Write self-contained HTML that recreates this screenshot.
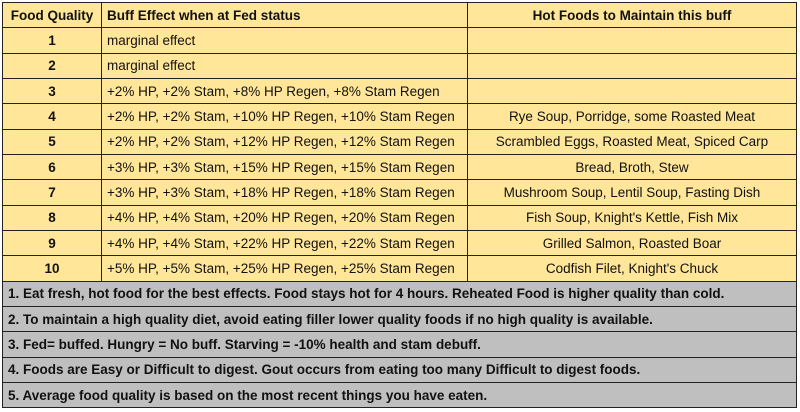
<!DOCTYPE html>
<html><head><meta charset="utf-8"><style>
body{margin:0;width:800px;height:412px;background:#fff;overflow:hidden;font-family:"Liberation Sans",sans-serif;}
table{position:absolute;left:2px;top:2px;border-collapse:collapse;table-layout:fixed;width:794px;}
td{border:1.5px solid #222;height:24.35px;padding:0 5px;font-size:13.5px;color:#111;white-space:nowrap;overflow:hidden;background:#FFE699;}
th{border:1.5px solid #222;height:24.35px;padding:0 5px;font-size:13.5px;background:#FFE699;color:#111;}
.c{text-align:center;font-weight:bold}
.h{text-align:center}
.n td{background:#BFBFBF;font-weight:bold;height:24.3px}
</style></head><body>
<table>
<colgroup><col style="width:99px"><col style="width:366px"><col style="width:329px"></colgroup>
<tr><th>Food Quality</th><th style="text-align:left">Buff Effect when at Fed status</th><th>Hot Foods to Maintain this buff</th></tr>
<tr><td class="c">1</td><td>marginal effect</td><td class="h"></td></tr>
<tr><td class="c">2</td><td>marginal effect</td><td class="h"></td></tr>
<tr><td class="c">3</td><td>+2% HP, +2% Stam, +8% HP Regen, +8% Stam Regen</td><td class="h"></td></tr>
<tr><td class="c">4</td><td>+2% HP, +2% Stam, +10% HP Regen, +10% Stam Regen</td><td class="h">Rye Soup, Porridge, some Roasted Meat</td></tr>
<tr><td class="c">5</td><td>+2% HP, +2% Stam, +12% HP Regen, +12% Stam Regen</td><td class="h">Scrambled Eggs, Roasted Meat, Spiced Carp</td></tr>
<tr><td class="c">6</td><td>+3% HP, +3% Stam, +15% HP Regen, +15% Stam Regen</td><td class="h">Bread, Broth, Stew</td></tr>
<tr><td class="c">7</td><td>+3% HP, +3% Stam, +18% HP Regen, +18% Stam Regen</td><td class="h">Mushroom Soup, Lentil Soup, Fasting Dish</td></tr>
<tr><td class="c">8</td><td>+4% HP, +4% Stam, +20% HP Regen, +20% Stam Regen</td><td class="h">Fish Soup, Knight's Kettle, Fish Mix</td></tr>
<tr><td class="c">9</td><td>+4% HP, +4% Stam, +22% HP Regen, +22% Stam Regen</td><td class="h">Grilled Salmon, Roasted Boar</td></tr>
<tr><td class="c">10</td><td>+5% HP, +5% Stam, +25% HP Regen, +25% Stam Regen</td><td class="h">Codfish Filet, Knight's Chuck</td></tr>
<tr class="n"><td colspan="3">1. Eat fresh, hot food for the best effects. Food stays hot for 4 hours. Reheated Food is higher quality than cold.</td></tr>
<tr class="n"><td colspan="3">2. To maintain a high quality diet, avoid eating filler lower quality foods if no high quality is available.</td></tr>
<tr class="n"><td colspan="3">3. Fed= buffed. Hungry = No buff. Starving = -10% health and stam debuff.</td></tr>
<tr class="n"><td colspan="3">4. Foods are Easy or Difficult to digest. Gout occurs from eating too many Difficult to digest foods.</td></tr>
<tr class="n"><td colspan="3">5. Average food quality is based on the most recent things you have eaten.</td></tr>
</table>
</body></html>
